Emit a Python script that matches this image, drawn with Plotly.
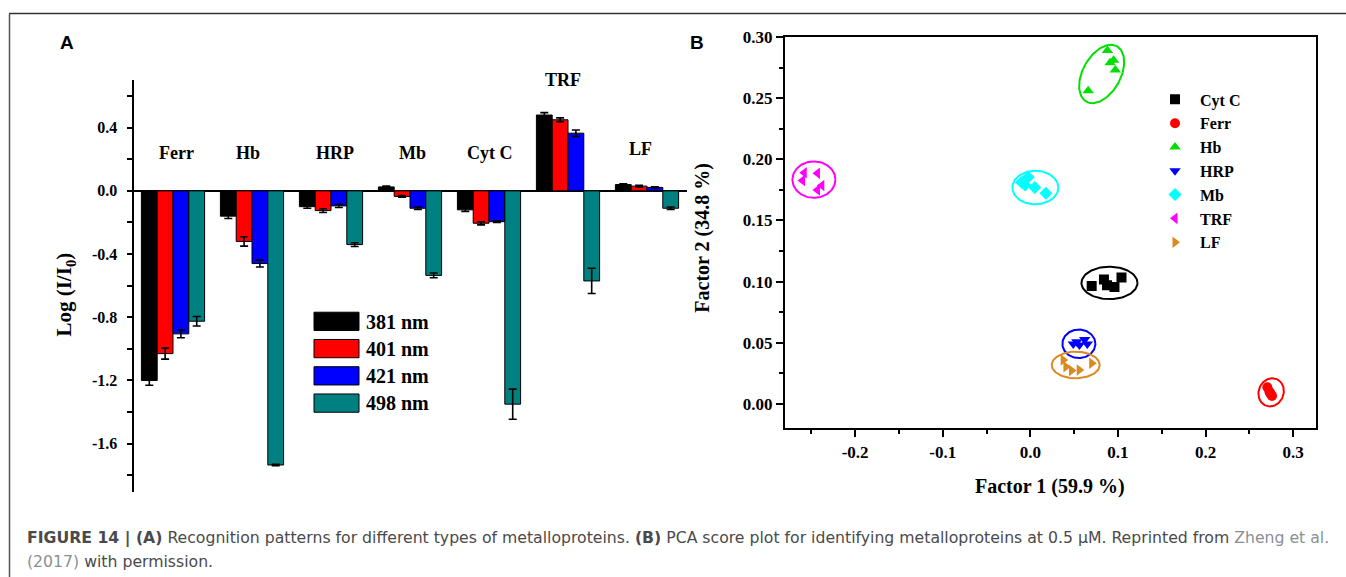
import numpy as np
import plotly.graph_objects as go

W, H = 1346, 577
# the photograph is taken of a 585 px tall strip starting 8 px above the page and then scaled to 577
CAP_H, CAP_OFF = 585, 8

# ---------------- Panel A data ----------------
categories = ["Ferr", "Hb", "HRP", "Mb", "Cyt C", "TRF", "LF"]
wavelengths = ["381 nm", "401 nm", "421 nm", "498 nm"]
v381 = [-1.20, -0.16, -0.10, 0.025, -0.12, 0.48, 0.04]
e381 = [0.03, 0.015, 0.01, 0.005, 0.01, 0.015, 0.005]
v401 = [-1.03, -0.32, -0.125, -0.035, -0.205, 0.45, 0.03]
e401 = [0.035, 0.03, 0.012, 0.005, 0.01, 0.012, 0.005]
v421 = [-0.905, -0.46, -0.095, -0.11, -0.195, 0.365, 0.022]
e421 = [0.025, 0.022, 0.01, 0.008, 0.005, 0.02, 0.004]
v498 = [-0.825, -1.735, -0.34, -0.535, -1.35, -0.57, -0.11]
e498 = [0.03, 0.004, 0.012, 0.015, 0.095, 0.08, 0.008]
yA_ticks = [-1.6, -1.2, -0.8, -0.4, 0.0, 0.4]
yA_ticktext = ["-1.6", "-1.2", "-0.8", "-0.4", "0.0", "0.4"]
yA_minor = [-1.8, -1.4, -1.0, -0.6, -0.2, 0.2, 0.6]

# ---------------- Panel B data ----------------
groups = ["Cyt C", "Ferr", "Hb", "HRP", "Mb", "TRF", "LF"]
cytc_x = [0.070, 0.084, 0.0875, 0.096, 0.104]
cytc_y = [0.0964, 0.1016, 0.097, 0.0956, 0.1033]
ferr_x = [0.2705, 0.2728, 0.2745, 0.2758, 0.2735]
ferr_y = [0.0135, 0.0100, 0.0078, 0.0065, 0.0090]
hb_x = [0.088, 0.091, 0.095, 0.097, 0.066]
hb_y = [0.289, 0.279, 0.281, 0.273, 0.256]
hrp_x = [0.049, 0.053, 0.056, 0.062, 0.065]
hrp_y = [0.0489, 0.0508, 0.0481, 0.0527, 0.0489]
mb_x = [-0.010, -0.0025, -0.006, 0.005, 0.0177]
mb_y = [0.1812, 0.1853, 0.179, 0.177, 0.1723]
trf_x = [-0.258, -0.243, -0.260, -0.238, -0.243]
trf_y = [0.189, 0.1886, 0.1826, 0.1785, 0.175]
lf_x = [0.0375, 0.0406, 0.047, 0.0558, 0.070]
lf_y = [0.0359, 0.0304, 0.0272, 0.0277, 0.0332]
xB_ticks = [-0.2, -0.1, 0.0, 0.1, 0.2, 0.3]
xB_ticktext = ["-0.2", "-0.1", "0.0", "0.1", "0.2", "0.3"]
yB_ticks = [0.00, 0.05, 0.10, 0.15, 0.20, 0.25, 0.30]
yB_ticktext = ["0.00", "0.05", "0.10", "0.15", "0.20", "0.25", "0.30"]
# cluster ellipse centres (data units)
ell_cx = [0.0903, 0.2748, 0.0814, 0.0554, 0.0057, -0.247, 0.0518]
ell_cy = [0.0989, 0.0094, 0.2698, 0.0491, 0.1769, 0.1834, 0.0318]

# ---------------- styles ----------------
bar_colors = ["#000000", "#FF0000", "#0000FF", "#008080"]
grp_colors = ["#000000", "#FF0000", "#00E000", "#0000FF", "#00FFFF", "#FF00FF", "#DA8A1E"]
grp_symbols = ["square", "circle", "triangle-up", "triangle-down", "diamond",
               "triangle-left", "triangle-right"]
ell_a = [28, 14.5, 32, 16.5, 23, 21.5, 24]      # semi axes in screen px
ell_b = [16.5, 12.5, 19, 14.5, 17, 18.5, 13.5]
ell_ang = [0, 70, 62, 0, 0, 0, 0]
cat_label_y = [0.24, 0.24, 0.24, 0.24, 0.24, 0.70, 0.265]
cat_label_dx = [3, -4, 4, 2, 1, -5, -7]

SERIF = "Liberation Serif, Times New Roman, serif"
SANS = "Liberation Sans, Arial, sans-serif"
CAPTION = "DejaVu Sans, Liberation Sans, sans-serif"

def px(xp):
    return xp / W

def py(yp):
    ydoc = yp * CAP_H / H - CAP_OFF
    return 1 - ydoc / H

domA_x = [px(133.5), px(686.5)]
domA_y = [py(491.7), py(79.3)]
domB_x = [px(785), px(1316)]
domB_y = [py(428), py(36)]
rangeA_y = [-1.905, 0.70]
rangeB_x = [-0.28, 0.326]
rangeB_y = [-0.02, 0.30]

fig = go.Figure()

vals = [v381, v401, v421, v498]
errs = [e381, e401, e421, e498]
for name, v, e, c in zip(wavelengths, vals, errs, bar_colors):
    fig.add_trace(go.Bar(
        x=categories, y=v, name=name, marker=dict(color=c, line=dict(color="black", width=1)),
        error_y=dict(type="data", array=e, visible=True, color="black", thickness=1.6, width=4),
        xaxis="x", yaxis="y", showlegend=False))

# Panel B scatter
pts = [(cytc_x, cytc_y), (ferr_x, ferr_y), (hb_x, hb_y), (hrp_x, hrp_y),
       (mb_x, mb_y), (trf_x, trf_y), (lf_x, lf_y)]
sx = (domB_x[1] - domB_x[0]) * W / (rangeB_x[1] - rangeB_x[0])
sy = (domB_y[1] - domB_y[0]) * H / (rangeB_y[1] - rangeB_y[0])
t = np.linspace(0, 2 * np.pi, 120)
for i, (g, (xs, ys)) in enumerate(zip(groups, pts)):
    a, b, ang = ell_a[i], ell_b[i], np.deg2rad(ell_ang[i])
    u, w = a * np.cos(t), b * np.sin(t)
    ex = ell_cx[i] + (u * np.cos(ang) - w * np.sin(ang)) / sx
    ey = ell_cy[i] + (u * np.sin(ang) + w * np.cos(ang)) / sy
    fig.add_trace(go.Scatter(x=ex, y=ey, mode="lines", line=dict(color=grp_colors[i], width=2),
                             xaxis="x2", yaxis="y2", showlegend=False, hoverinfo="skip"))
for i, (g, (xs, ys)) in enumerate(zip(groups, pts)):
    fig.add_trace(go.Scatter(x=xs, y=ys, mode="markers", name=g,
                             marker=dict(symbol=grp_symbols[i], color=grp_colors[i], size=10,
                                         line=dict(width=0)),
                             xaxis="x2", yaxis="y2"))

annotations = []
for cat, ly, dx in zip(categories, cat_label_y, cat_label_dx):
    annotations.append(dict(x=cat, y=ly, xref="x", yref="y", text=cat, showarrow=False,
                            xanchor="center", yanchor="middle", xshift=dx,
                            font=dict(family=SERIF, size=18, color="black", weight="bold")))

# custom legend for panel A
shapes = []
for i, (name, c) in enumerate(zip(wavelengths, bar_colors)):
    top = 311.7 + i * 27.3
    shapes.append(dict(type="rect", xref="paper", yref="paper", x0=px(314), x1=px(359),
                       y0=py(top + 18.3), y1=py(top), fillcolor=c, line=dict(color="black", width=1)))
    annotations.append(dict(x=px(364), y=py(top + 9.5), xref="paper", yref="paper", text=name,
                            showarrow=False, xanchor="left", yanchor="middle",
                            font=dict(family=SERIF, size=20, color="black", weight="bold")))

# frame lines
shapes.append(dict(type="line", xref="paper", yref="paper", x0=px(9), x1=1, y0=py(12.5), y1=py(12.5),
                   line=dict(color="#333333", width=1.5)))
shapes.append(dict(type="line", xref="paper", yref="paper", x0=px(9.5), x1=px(9.5), y0=0, y1=py(12.5),
                   line=dict(color="#555555", width=1.5)))

def ann(x, y, text, size, family=SERIF, angle=0, weight="bold"):
    return dict(x=px(x), y=py(y), xref="paper", yref="paper", text=text, textangle=angle,
                xanchor="center", yanchor="middle", showarrow=False,
                font=dict(family=family, size=size, color="black", weight=weight))

annotations += [
    ann(65, 294, "Log (I/I<sub>0</sub>)", 21, angle=-90),
    ann(1050, 486, "Factor 1 (59.9 %)", 20),
    ann(703, 237, "Factor 2 (34.8 %)", 20, angle=-90),
    ann(67, 41, "A", 19, family=SANS),
    ann(697, 41, "B", 19, family=SANS),
    dict(x=px(25), y=py(538), xref="paper", yref="paper", xanchor="left", yanchor="middle",
         showarrow=False, align="left",
         text=("<b>FIGURE 14 | (A)</b> Recognition patterns for different types of metalloproteins. "
               "<b>(B)</b> PCA score plot for identifying metalloproteins at 0.5 \u03bcM. Reprinted from "
               "<span style='color:#8a8f96'>Zheng et al.</span>"),
         font=dict(family=CAPTION, size=15.7, color="#4a4a4a")),
    dict(x=px(25), y=py(561), xref="paper", yref="paper", xanchor="left", yanchor="middle",
         showarrow=False, align="left",
         text="<span style='color:#8a8f96'>(2017)</span> with permission.",
         font=dict(family=CAPTION, size=15.7, color="#4a4a4a")),
]

tickfontA = dict(family=SERIF, size=16, color="black", weight="bold")
tickfontB = dict(family=SERIF, size=17, color="black", weight="bold")

fig.update_layout(
    width=W, height=H, margin=dict(l=0, r=0, t=0, b=0),
    paper_bgcolor="white", plot_bgcolor="white",
    barmode="group", bargap=0.2, bargroupgap=0,
    xaxis=dict(domain=domA_x, anchor="y", type="category", range=[-0.5, 6.5],
               showticklabels=False, showline=False, ticks="", showgrid=False, zeroline=False),
    yaxis=dict(domain=domA_y, anchor="x", range=rangeA_y, showline=True, linewidth=2,
               linecolor="black", ticks="outside", ticklen=5, tickwidth=2, tickcolor="black",
               tickvals=yA_ticks, ticktext=yA_ticktext, tickfont=tickfontA, ticklabelstandoff=6,
               minor=dict(tickvals=yA_minor, ticks="outside", ticklen=5, tickwidth=2, tickcolor="black"),
               showgrid=False, zeroline=True, zerolinecolor="black", zerolinewidth=2),
    xaxis2=dict(domain=domB_x, anchor="y2", range=rangeB_x, showline=True, mirror=True, linewidth=2,
                linecolor="black", ticks="outside", ticklen=7, tickwidth=2, tickcolor="black",
                tickvals=xB_ticks, ticktext=xB_ticktext, tickfont=tickfontB, showgrid=False, zeroline=False,
                minor=dict(tickvals=[-0.25, -0.15, -0.05, 0.05, 0.15, 0.25], ticks="outside", ticklen=4,
                           tickwidth=2, tickcolor="black")),
    yaxis2=dict(domain=domB_y, anchor="x2", range=rangeB_y, showline=True, mirror=True, linewidth=2,
                linecolor="black", ticks="outside", ticklen=7, tickwidth=2, tickcolor="black",
                tickvals=yB_ticks, ticktext=yB_ticktext, tickfont=tickfontB, showgrid=False, zeroline=False,
                minor=dict(tickvals=[0.025, 0.075, 0.125, 0.175, 0.225, 0.275], ticks="outside", ticklen=4,
                           tickwidth=2, tickcolor="black")),
    legend=dict(x=px(1150), y=py(81.5), xanchor="left", yanchor="top", bgcolor="rgba(0,0,0,0)",
                font=dict(family=SERIF, size=16, color="black", weight="bold"),
                itemwidth=40, tracegroupgap=0, itemclick=False),
    annotations=annotations, shapes=shapes, showlegend=True,
)

post = ("document.documentElement.style.margin='0';document.body.style.margin='0';"
        "document.documentElement.style.overflow='hidden';document.body.style.overflow='hidden';")
fig.write_html("out.html", config={"displayModeBar": False}, post_script=post)
